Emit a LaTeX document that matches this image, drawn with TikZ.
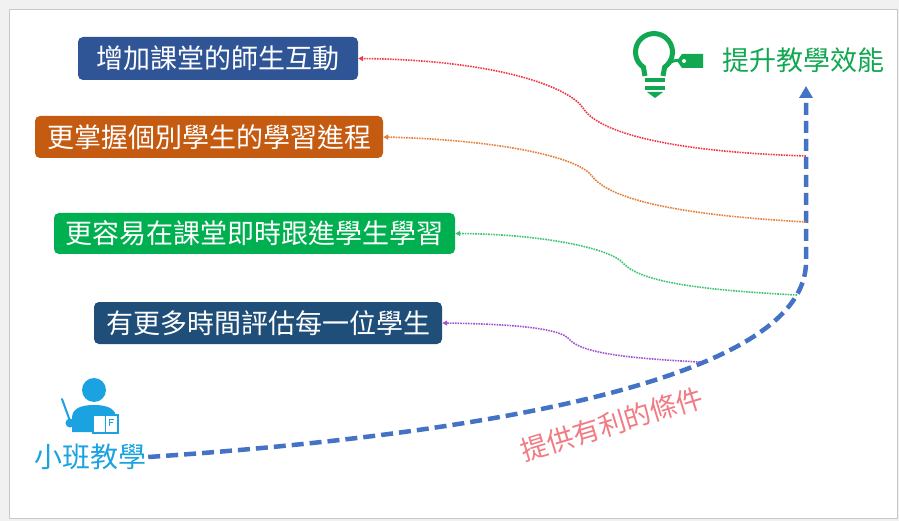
\documentclass[tikz,border=0pt]{standalone}
\usepackage{fontspec}
\newfontfamily\cjk{Noto Sans CJK TC}
\usetikzlibrary{arrows.meta}
\definecolor{boxA}{HTML}{2F5597}
\definecolor{boxB}{HTML}{C55A11}
\definecolor{boxC}{HTML}{00B050}
\definecolor{boxD}{HTML}{1F4E79}
\definecolor{goalgreen}{HTML}{12A851}
\definecolor{mainblue}{HTML}{4472C4}
\definecolor{teachblue}{HTML}{1AA3E0}
\definecolor{condpink}{HTML}{F27A82}
\definecolor{lnred}{HTML}{EE3A48}
\definecolor{lnorange}{HTML}{E2803C}
\definecolor{lngreen}{HTML}{3CC46E}
\definecolor{lnpurple}{HTML}{A055D0}
\definecolor{pagebg}{HTML}{F1F1F1}
\definecolor{framegrey}{HTML}{C8C8C8}
\tikzset{
  benefit/.style={rounded corners=5pt, text=white, inner sep=0pt,
    font=\cjk\fontsize{27}{27}\selectfont, align=center},
  link/.style={densely dotted, line width=1.6pt, -{Triangle[length=5pt,width=5pt]}},
  mainpath/.style={mainblue, line width=4.5pt, dash pattern=on 12pt off 6pt,
    -{Triangle[length=12pt,width=13pt]}},
  bigtext/.style={inner sep=2pt, font=\cjk\fontsize{27}{27}\selectfont}
}
\begin{document}
\begin{tikzpicture}[x=1pt,y=-1pt]
\useasboundingbox (0,0) rectangle (899,521);
\fill[pagebg] (0,0) rectangle (899,521);
\fill[white, draw=framegrey, line width=1pt] (9,10) rectangle (897,518);

% benefit boxes
\node[benefit, fill=boxA, minimum width=280pt, minimum height=43pt] (b1) at (218,58.5) {增加課堂的師生互動};
\node[benefit, fill=boxB, minimum width=348pt, minimum height=42pt] (b2) at (209,137) {更掌握個別學生的學習進程};
\node[benefit, fill=boxC, minimum width=401pt, minimum height=41pt] (b3) at (254.5,233.5) {更容易在課堂即時跟進學生學習};
\node[benefit, fill=boxD, minimum width=348pt, minimum height=42pt] (b4) at (268,323) {有更多時間評估每一位學生};

% labels
\node[bigtext, text=teachblue, font=\cjk\fontsize{28}{28}\selectfont] (small) at (90,457) {小班教學};
\node[bigtext, text=goalgreen] (goal) at (803,60) {提升教學效能};
\node[bigtext, text=condpink, rotate=17] (cond) at (612,424) {提供有利的條件};

% main dashed arrow
\coordinate (tip) at (806,86);
\draw[mainpath] (small.east) .. controls (520,432) and (806,372) .. (806,262) -- (tip);

% start points on the main path
\coordinate (r0) at (806,156);
\coordinate (o0) at (806,222);
\coordinate (g0) at (797,295);
\coordinate (p0) at (700,362);

\draw[link, lnred] (r0) .. controls (680,152) and (600,135) .. (583,108)
   .. controls (570,88) and (500,60) .. (b1.east);
\draw[link, lnorange] (o0) .. controls (680,215) and (610,200) .. (592,176)
   .. controls (578,157) and (500,140) .. (b2.east);
\draw[link, lngreen] (g0) .. controls (700,290) and (640,282) .. (623,263)
   .. controls (610,248) and (540,234) .. (b3.east);
\draw[link, lnpurple] (p0) .. controls (620,358) and (580,352) .. (569,339)
   .. controls (560,328) and (510,324) .. (b4.east);

% light bulb icon
\begin{scope}[goalgreen]
\draw[line width=5pt] (645,76) -- (643.4,67.2) arc[start angle=125, end angle=415, radius=18.5] -- (663,76);
\draw[line width=4.5pt] (645,80) -- (665,80);
\draw[line width=4.5pt] (645,88) -- (665,88);
\fill (647,92) -- (663,92) -- (655,98) -- cycle;
\draw[line width=3pt] (670,62) .. controls (676,60) and (680,60) .. (684,61);
\fill (682,54) -- (703,54) -- (703,68) -- (682,68) -- (677,61) -- cycle;
\fill[white] (684,61) circle[radius=2];
\end{scope}

% teacher icon
\begin{scope}[teachblue]
\fill (94,390) circle[radius=12];
\fill (72,432) -- (72,418) .. controls (72,409) and (80,405) .. (94,405)
   .. controls (108,405) and (116,409) .. (116,418) -- (116,432) -- cycle;
\draw[line width=2pt, line cap=round] (62,399) -- (70,421);
\fill (70,423) circle[radius=4.5];
\draw[line width=2.2pt, fill=white] (93,415) rectangle (118,433);
\draw[line width=1.5pt] (105.5,415) -- (105.5,433);
\draw[line width=1pt] (109,419) -- (114,419) (109,422) -- (113,422) (109,419) -- (109,426);
\end{scope}
\end{tikzpicture}
\end{document}
